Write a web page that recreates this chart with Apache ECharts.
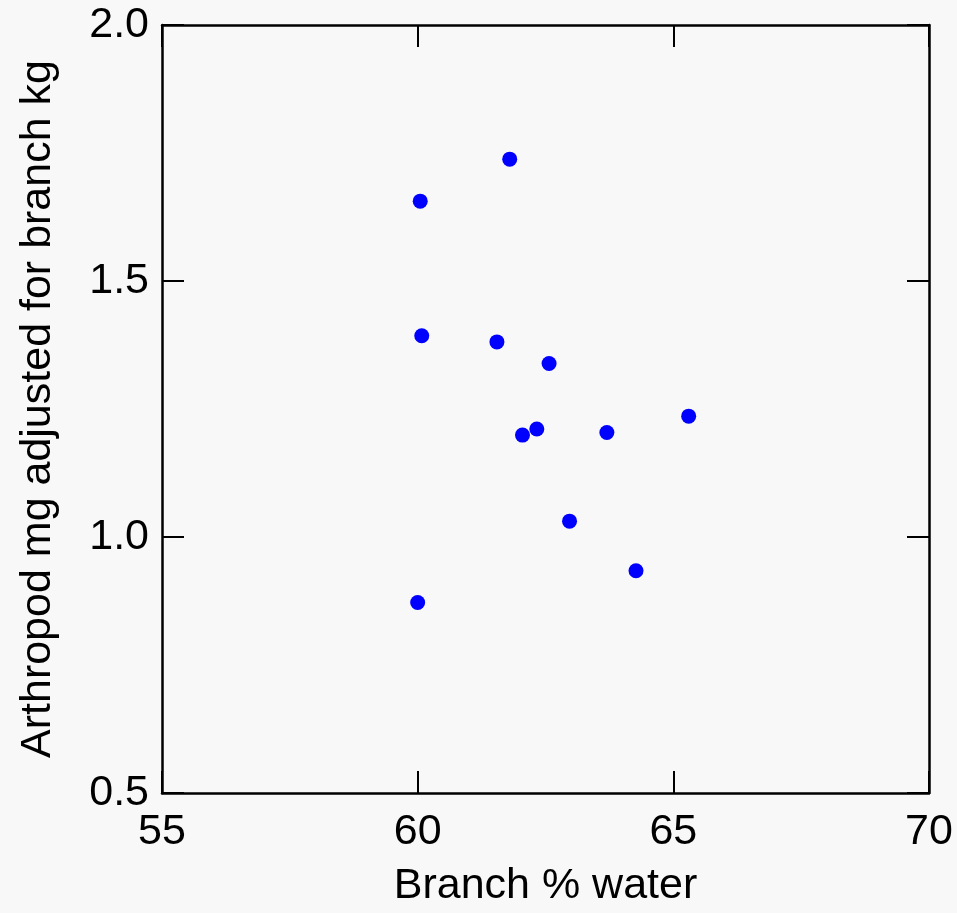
<!DOCTYPE html>
<html>
<head>
<meta charset="utf-8">
<script src="https://cdn.jsdelivr.net/npm/echarts@6/dist/echarts.min.js"></script>
<style>
html,body{margin:0;padding:0;background:#f8f8f8;}
#chart{width:957px;height:913px;}
</style>
</head>
<body>
<div id="chart"></div>
<script>
var branchWater = [60.05, 61.80, 60.08, 61.55, 62.57, 62.05, 62.33, 63.70, 65.30, 62.97, 64.27, 60.00];
var arthropodMg = [1.656, 1.738, 1.393, 1.381, 1.339, 1.199, 1.211, 1.204, 1.236, 1.031, 0.934, 0.872];
var xTitle = 'Branch % water';
var yTitle = 'Arthropod mg adjusted for branch kg';

var points = branchWater.map(function (x, i) { return [x, arthropodMg[i]]; });
var font = 'Liberation Sans, Arial, sans-serif';
var lineStyle = { color: '#000', width: 2.5 };
var tickStyle = { show: true, inside: true, length: 22, lineStyle: { color: '#000', width: 2 } };

var chart = echarts.init(document.getElementById('chart'));
chart.setOption({
  backgroundColor: '#f8f8f8',
  animation: false,
  grid: { left: 162, top: 25, right: 28, bottom: 120, containLabel: false },
  xAxis: [{
    type: 'value', position: 'bottom', min: 55, max: 70, interval: 5,
    name: xTitle, nameLocation: 'middle', nameGap: 72,
    nameTextStyle: { fontSize: 43, color: '#000', fontFamily: font },
    axisLine: { show: true, onZero: false, lineStyle: lineStyle },
    axisTick: tickStyle,
    axisLabel: { fontSize: 43, color: '#000', fontFamily: font, margin: 18 },
    splitLine: { show: false }
  }, {
    type: 'value', position: 'top', min: 55, max: 70, interval: 5,
    axisLine: { show: true, onZero: false, lineStyle: lineStyle },
    axisTick: tickStyle,
    axisLabel: { show: false },
    splitLine: { show: false }
  }],
  yAxis: [{
    type: 'value', position: 'left', min: 0.5, max: 2.0, interval: 0.5,
    name: yTitle, nameLocation: 'middle', nameGap: 102,
    nameTextStyle: { fontSize: 43, color: '#000', fontFamily: font },
    axisLine: { show: true, onZero: false, lineStyle: lineStyle },
    axisTick: tickStyle,
    axisLabel: { fontSize: 43, color: '#000', fontFamily: font, margin: 13,
      formatter: function (v) { return v.toFixed(1); } },
    splitLine: { show: false }
  }, {
    type: 'value', position: 'right', min: 0.5, max: 2.0, interval: 0.5,
    axisLine: { show: true, onZero: false, lineStyle: lineStyle },
    axisTick: tickStyle,
    axisLabel: { show: false },
    splitLine: { show: false }
  }],
  series: [{
    type: 'scatter',
    xAxisIndex: 0, yAxisIndex: 0,
    data: points,
    symbol: 'circle',
    symbolSize: 15,
    itemStyle: { color: '#0000ff', opacity: 1 }
  }]
});
</script>
</body>
</html>
